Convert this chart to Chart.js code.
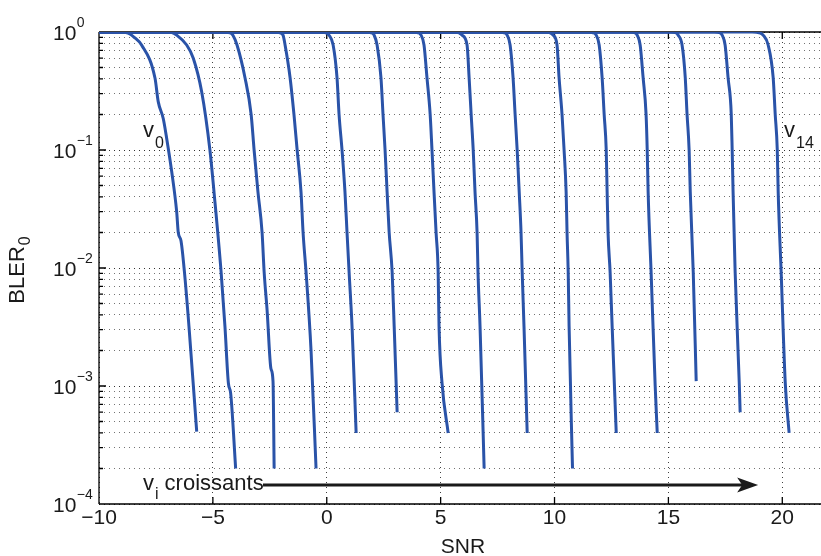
<!DOCTYPE html>
<html><head><meta charset="utf-8">
<script src="https://cdn.jsdelivr.net/npm/chart.js@4/dist/chart.umd.min.js"></script>
<style>html,body{margin:0;padding:0;background:#fff}canvas{display:block}</style>
</head><body>
<canvas id="c" width="821" height="556"></canvas>
<script>
// ---- data (SNR in dB, BLER_0) ----
const snr_v0  = [-10, -9.2, -8.73, -8.42, -8.13, -7.54, -7.40, -7.18, -7.03, -6.81, -6.59, -6.52, -6.40, -6.25, -6.05, -5.71];
const bler_v0 = [1, 1, 0.98, 0.89, 0.776, 0.405, 0.257, 0.185, 0.126, 0.066, 0.030, 0.020, 0.017, 0.0093, 0.0032, 0.00041];
const snr_v1  = [-10, -7.10, -6.80, -6.59, -6.15, -5.86, -5.49, -5.13, -4.95, -4.64, -4.47, -4.32, -4.22, -4.00];
const bler_v1 = [1, 1, 0.99, 0.94, 0.776, 0.60, 0.31, 0.1, 0.044, 0.0093, 0.0032, 0.00106, 0.00087, 0.0002];
const snr_v2  = [-10, -4.60, -4.25, -4.12, -3.94, -3.59, -3.32, -3.19, -3.02, -2.84, -2.75, -2.62, -2.45, -2.36, -2.31];
const bler_v2 = [1, 1, 0.985, 0.94, 0.776, 0.41, 0.2, 0.1, 0.044, 0.02, 0.0093, 0.0044, 0.0014, 0.0011, 0.0002];
const snr_v3  = [-10, -2.31, -2.05, -1.92, -1.83, -1.61, -1.44, -1.30, -1.13, -1.04, -0.91, -0.69, -0.47];
const bler_v3 = [1, 1, 0.985, 0.94, 0.776, 0.41, 0.2, 0.1, 0.044, 0.02, 0.0093, 0.002, 0.0002];
const snr_v4  = [-10, -0.29, -0.03, 0.10, 0.28, 0.45, 0.54, 0.67, 0.80, 0.89, 0.98, 1.11, 1.29];
const bler_v4 = [1, 1, 0.985, 0.94, 0.776, 0.41, 0.2, 0.1, 0.044, 0.02, 0.0093, 0.0032, 0.0004];
const snr_v5  = [-10, 1.68, 1.95, 2.08, 2.21, 2.38, 2.47, 2.56, 2.65, 2.74, 2.87, 2.96, 3.09];
const bler_v5 = [1, 1, 0.985, 0.94, 0.776, 0.41, 0.2, 0.1, 0.044, 0.02, 0.0093, 0.0032, 0.0006];
const snr_v6  = [-10, 3.75, 4.01, 4.14, 4.27, 4.40, 4.54, 4.62, 4.71, 4.80, 4.89, 4.93, 5.06, 5.33];
const bler_v6 = [1, 1, 0.985, 0.94, 0.776, 0.41, 0.2, 0.1, 0.044, 0.02, 0.0093, 0.0032, 0.00107, 0.0004];
const snr_v7  = [-10, 5.55, 5.81, 5.94, 6.16, 6.25, 6.34, 6.43, 6.51, 6.60, 6.64, 6.73, 6.91];
const bler_v7 = [1, 1, 0.985, 0.94, 0.776, 0.41, 0.2, 0.1, 0.044, 0.02, 0.0093, 0.0032, 0.0002];
const snr_v8  = [-10, 7.52, 7.79, 7.92, 8.05, 8.18, 8.27, 8.36, 8.45, 8.53, 8.58, 8.66, 8.80];
const bler_v8 = [1, 1, 0.985, 0.94, 0.776, 0.41, 0.2, 0.1, 0.044, 0.02, 0.0093, 0.0032, 0.0004];
const snr_v9  = [-10, 9.54, 9.81, 9.94, 10.11, 10.20, 10.33, 10.42, 10.51, 10.55, 10.60, 10.64, 10.79];
const bler_v9 = [1, 1, 0.985, 0.94, 0.776, 0.41, 0.2, 0.1, 0.044, 0.02, 0.0093, 0.0032, 0.0002];
const snr_v10  = [-10, 11.43, 11.70, 11.83, 11.96, 12.09, 12.18, 12.27, 12.31, 12.35, 12.44, 12.53, 12.71];
const bler_v10 = [1, 1, 0.985, 0.94, 0.776, 0.41, 0.2, 0.1, 0.044, 0.02, 0.0093, 0.0032, 0.0004];
const snr_v11  = [-10, 13.32, 13.54, 13.63, 13.76, 13.89, 14.02, 14.07, 14.11, 14.24, 14.42, 14.51];
const bler_v11 = [1, 1, 0.985, 0.94, 0.776, 0.41, 0.2, 0.1, 0.044, 0.0093, 0.001, 0.0004];
const snr_v12  = [-10, 15.08, 15.34, 15.43, 15.60, 15.74, 15.82, 15.91, 15.96, 16.09, 16.22];
const bler_v12 = [1, 1, 0.985, 0.94, 0.776, 0.41, 0.2, 0.1, 0.044, 0.0093, 0.0011];
const snr_v13  = [-10, 17.01, 17.27, 17.36, 17.49, 17.62, 17.76, 17.80, 17.84, 17.93, 18.11, 18.15];
const bler_v13 = [1, 1, 0.985, 0.94, 0.776, 0.41, 0.2, 0.1, 0.044, 0.0093, 0.00107, 0.0006];
const snr_v14  = [-10, 18.68, 18.99, 19.16, 19.38, 19.60, 19.69, 19.78, 19.82, 19.95, 20.13, 20.30];
const bler_v14 = [1, 1, 0.985, 0.94, 0.776, 0.41, 0.2, 0.1, 0.044, 0.0093, 0.00107, 0.0004];

const xTickValues = [-10, -5, 0, 5, 10, 15, 20];
const xTickLabels = ['\u221210', '\u22125', '0', '5', '10', '15', '20'];
const yDecadeExps = [0, -1, -2, -3, -4];
const yExpLabels  = ['0', '\u22121', '\u22122', '\u22123', '\u22124'];
const yMinorMult  = [2, 3, 4, 5, 6, 7, 8, 9];

// annotation anchors (data coordinates)
const labelV0  = {x: -8.07, y: 0.129};
const labelV14 = {x: 20.08, y: 0.129};
const labelVi  = {x: -8.07, y: 1.32e-4};
const arrowFrom = {x: -2.80, y: 1.45e-4};
const arrowTo   = {x: 18.94, y: 1.45e-4};

const curves = [
  [snr_v0, bler_v0], [snr_v1, bler_v1], [snr_v2, bler_v2], [snr_v3, bler_v3], [snr_v4, bler_v4],
  [snr_v5, bler_v5], [snr_v6, bler_v6], [snr_v7, bler_v7], [snr_v8, bler_v8], [snr_v9, bler_v9],
  [snr_v10, bler_v10], [snr_v11, bler_v11], [snr_v12, bler_v12], [snr_v13, bler_v13], [snr_v14, bler_v14]
];

const yTickValues = [];
yDecadeExps.forEach(e => {
  yTickValues.push(Math.pow(10, e));
  if (e > -4) yMinorMult.forEach(m => yTickValues.push(m * Math.pow(10, e - 1)));
});
yTickValues.sort((a, b) => a - b);

const FONT = "'Liberation Sans', Arial, Helvetica, sans-serif";
const LINE = '#2a53a8';
const INK = '#1a1a1a';

const isDecade = v => Math.abs(Math.log10(v) - Math.round(Math.log10(v))) < 1e-9;

function drawSub(ctx, base, sub, x, y, bf, sf, dy) {
  ctx.font = bf + 'px ' + FONT;
  ctx.fillText(base, x, y);
  const w = ctx.measureText(base).width;
  ctx.font = sf + 'px ' + FONT;
  ctx.fillText(sub, x + w + 1, y + dy);
  return x + w + 1 + ctx.measureText(sub).width;
}

const decor = {
  id: 'decor',
  beforeDatasetsDraw(chart) {
    const {ctx, chartArea: a, scales: {x, y}} = chart;
    ctx.save();
    ctx.strokeStyle = '#000';
    ctx.lineWidth = 1.3;
    ctx.beginPath();
    ctx.moveTo(a.left, a.top); ctx.lineTo(a.right, a.top);
    ctx.moveTo(a.left, a.top); ctx.lineTo(a.left, a.bottom);
    ctx.moveTo(a.left, a.bottom); ctx.lineTo(a.right, a.bottom);
    yTickValues.forEach(v => {
      const py = y.getPixelForValue(v);
      const len = isDecade(v) ? 7 : 4;
      ctx.moveTo(a.left, py); ctx.lineTo(a.left + len, py);
    });
    xTickValues.forEach(v => {
      const px = x.getPixelForValue(v);
      ctx.moveTo(px, a.bottom); ctx.lineTo(px, a.bottom - 7);
      ctx.moveTo(px, a.top); ctx.lineTo(px, a.top + 7);
    });
    ctx.stroke();
    ctx.restore();
  },
  afterDraw(chart) {
    const {ctx, chartArea: a, scales: {x, y}} = chart;
    ctx.save();
    ctx.fillStyle = INK;
    ctx.textAlign = 'left';
    ctx.textBaseline = 'alphabetic';
    yDecadeExps.forEach((e, i) => {
      const py = y.getPixelForValue(Math.pow(10, e));
      ctx.font = '21px ' + FONT;
      ctx.fillText('10', 53, py + 8);
      const w = ctx.measureText('10').width;
      ctx.font = '14px ' + FONT;
      ctx.fillText(yExpLabels[i], 53 + w + 0.5, py - 5);
    });
    ctx.font = '21px ' + FONT;
    ctx.textAlign = 'center';
    xTickValues.forEach((v, i) => {
      ctx.fillText(xTickLabels[i], x.getPixelForValue(v), 524);
    });
    ctx.font = '21px ' + FONT;
    ctx.fillText('SNR', 463, 553);
    // y title BLER_0 (rotated)
    ctx.save();
    ctx.translate(24, (a.top + a.bottom) / 2 + 2);
    ctx.rotate(-Math.PI / 2);
    ctx.textAlign = 'left';
    ctx.font = '22px ' + FONT;
    const wb = ctx.measureText('BLER').width;
    ctx.font = '16px ' + FONT;
    const ws = ctx.measureText('0').width;
    drawSub(ctx, 'BLER', '0', -(wb + ws + 1) / 2, 0, 22, 16, 6);
    ctx.restore();
    // curve labels
    ctx.textAlign = 'left';
    let p = {x: x.getPixelForValue(labelV0.x), y: y.getPixelForValue(labelV0.y)};
    drawSub(ctx, 'v', '0', p.x, p.y, 22, 16, 11);
    p = {x: x.getPixelForValue(labelV14.x), y: y.getPixelForValue(labelV14.y)};
    drawSub(ctx, 'v', '14', p.x, p.y, 22, 16, 11);
    p = {x: x.getPixelForValue(labelVi.x), y: y.getPixelForValue(labelVi.y)};
    const endSub = drawSub(ctx, 'v', 'i', p.x, p.y, 22, 16, 9);
    ctx.font = '22px ' + FONT;
    ctx.fillText(' croissants', endSub, p.y);
    // arrow
    const ax0 = x.getPixelForValue(arrowFrom.x), ay = y.getPixelForValue(arrowFrom.y);
    const ax1 = x.getPixelForValue(arrowTo.x);
    ctx.strokeStyle = INK;
    ctx.lineWidth = 3;
    ctx.beginPath();
    ctx.moveTo(ax0, ay); ctx.lineTo(ax1 - 14, ay);
    ctx.stroke();
    ctx.fillStyle = INK;
    ctx.beginPath();
    ctx.moveTo(ax1, ay);
    ctx.lineTo(ax1 - 21, ay - 7.5);
    ctx.lineTo(ax1 - 16, ay);
    ctx.lineTo(ax1 - 21, ay + 7.5);
    ctx.closePath();
    ctx.fill();
    ctx.restore();
  }
};

new Chart(document.getElementById('c'), {
  type: 'line',
  data: {
    datasets: curves.map(([xs, ys]) => ({
      data: xs.map((v, i) => ({x: v, y: ys[i]})),
      borderColor: LINE,
      borderWidth: 3,
      pointRadius: 0,
      fill: false,
      cubicInterpolationMode: 'monotone'
    }))
  },
  options: {
    responsive: false,
    animation: false,
    events: [],
    layout: {padding: {top: 32, left: 0, right: 0, bottom: 0}},
    plugins: {legend: {display: false}, tooltip: {enabled: false}},
    scales: {
      x: {
        type: 'linear', min: -10, max: 21.7,
        ticks: {display: false, stepSize: 5, includeBounds: false},
        afterBuildTicks: s => { s.ticks = xTickValues.map(v => ({value: v})); },
        afterFit: s => { s.height = 52; },
        grid: {color: 'rgba(0,0,0,0.75)', lineWidth: 1, drawTicks: false},
        border: {display: false, dash: [1, 4]}
      },
      y: {
        type: 'logarithmic', min: 1e-4, max: 1,
        ticks: {display: false},
        afterBuildTicks: s => { s.ticks = yTickValues.map(v => ({value: v})); },
        afterFit: s => { s.width = 99; },
        grid: {
          color: c => (c.tick && isDecade(c.tick.value)) ? 'rgba(0,0,0,0.8)' : 'rgba(0,0,0,0.55)',
          lineWidth: 1, drawTicks: false
        },
        border: {display: false, dash: [1, 4]}
      }
    }
  },
  plugins: [decor]
});
</script>
</body></html>
